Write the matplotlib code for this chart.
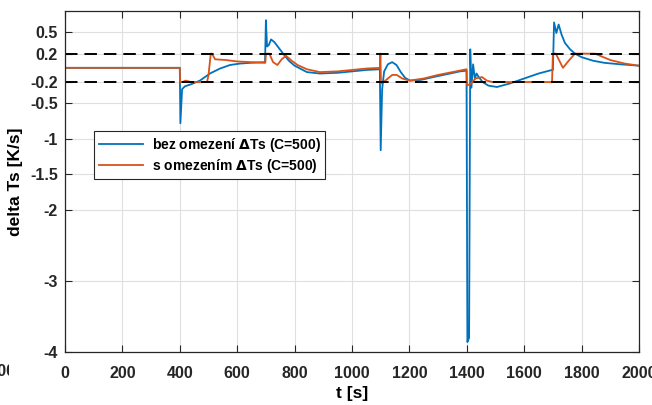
import matplotlib
matplotlib.use('Agg')
import matplotlib.pyplot as plt
from matplotlib.transforms import Bbox

plt.rcParams['font.family'] = ['Liberation Sans', 'DejaVu Sans']
plt.rcParams['font.weight'] = 'bold'
plt.rcParams['lines.scale_dashes'] = False

# bez omezeni dTs (C=500)
t_blue = [0, 400, 402, 408, 418, 440, 470, 505, 540, 575, 610, 645, 697,
          700, 704, 710, 718, 730, 745, 760, 780, 800, 843, 888, 950, 1000,
          1050, 1097, 1100, 1105, 1112, 1125, 1140, 1155, 1170, 1185, 1202,
          1240, 1283, 1330, 1376, 1399, 1402, 1408, 1412, 1416, 1422, 1428,
          1434, 1440, 1455, 1475, 1505, 1550, 1600, 1650, 1697, 1700, 1704,
          1712, 1720, 1730, 1742, 1760, 1777, 1800, 1840, 1880, 1934, 2000]
dts_blue = [0, 0, -0.78, -0.30, -0.26, -0.23, -0.18, -0.08, -0.01, 0.04, 0.06, 0.07, 0.08,
            0.67, 0.30, 0.32, 0.40, 0.36, 0.28, 0.20, 0.10, 0.03, -0.06, -0.08, -0.07, -0.05,
            -0.03, -0.02, -1.16, -0.30, -0.05, 0.05, 0.08, 0.04, -0.06, -0.14, -0.18,
            -0.17, -0.13, -0.09, -0.05, -0.04, -3.86, -3.80, 0.26, -0.28, 0.05, -0.15,
            -0.08, -0.12, -0.20, -0.25, -0.27, -0.22, -0.15, -0.08, -0.03, -0.03, 0.64,
            0.49, 0.61, 0.47, 0.35, 0.26, 0.20, 0.15, 0.10, 0.07, 0.05, 0.03]

# s omezenim dTs (C=500)
t_orange = [0, 400, 401, 410, 420, 440, 470, 495, 500, 508, 512, 523, 560, 600,
            650, 698, 700, 712, 725, 740, 755, 770, 790, 810, 843, 888, 950,
            1000, 1050, 1097, 1099, 1101, 1110, 1125, 1140, 1156, 1175, 1200,
            1250, 1300, 1350, 1399, 1401, 1415, 1430, 1453, 1470, 1490, 1697,
            1700, 1710, 1720, 1735, 1755, 1777, 1847, 1870, 1900, 1950, 2000]
dts_orange = [0, 0, -0.20, -0.20, -0.18, -0.20, -0.20, -0.20, -0.10, 0.20, 0.20, 0.12, 0.11, 0.09,
              0.08, 0.07, 0.20, 0.20, 0.08, 0.04, 0.12, 0.17, 0.10, 0.04, -0.02, -0.06, -0.05,
              -0.03, -0.01, 0.0, 0.20, -0.22, -0.20, -0.15, -0.10, -0.10, -0.15, -0.18,
              -0.15, -0.10, -0.06, -0.02, -0.25, -0.22, -0.15, -0.13, -0.18, -0.20, -0.20,
              0.20, 0.20, 0.12, 0.0, 0.10, 0.20, 0.20, 0.16, 0.11, 0.06, 0.03]

limit = 0.2
x_ticks = [0, 200, 400, 600, 800, 1000, 1200, 1400, 1600, 1800, 2000]
y_ticks = [-4, -3, -2, -1.5, -1, -0.5, -0.2, 0.2, 0.5]
y_labels = ['-4', '-3', '-2', '-1.5', '-1', '-0.5', '-0.2', '0.2', '0.5']

fig = plt.figure(figsize=(6.52, 4.05), dpi=100)
ax = fig.add_axes([65 / 652, 1 - 352 / 405, 574 / 652, 341 / 405])

ax.plot(t_blue, dts_blue, color='#0072BD', lw=1.3, label='bez omezení $\\Delta$Ts (C=500)')
ax.plot(t_orange, dts_orange, color='#D95319', lw=1.3, label='s omezením $\\Delta$Ts (C=500)')
ax.axhline(limit, color='black', lw=1.4, dashes=(9, 5))
ax.axhline(-limit, color='black', lw=1.4, dashes=(9, 5))

ax.set_xlim(0, 2000)
ax.set_ylim(-4, 0.8)
ax.set_xticks(x_ticks)
ax.set_yticks(y_ticks)
ax.set_yticklabels(y_labels)
ax.grid(True, color='#dfdfdf', lw=0.8)
ax.set_axisbelow(True)
ax.tick_params(direction='in', length=5, width=0.8, top=True, right=True,
               labelsize=11.5, colors='#262626')
ax.tick_params(axis='x', pad=10)
ax.tick_params(axis='y', pad=5)
for s in ax.spines.values():
    s.set_color('#262626')
    s.set_linewidth(0.9)

ax.set_xlabel('t [s]', fontsize=12.5, fontweight='bold', labelpad=4)
ax.set_ylabel('delta Ts [K/s]', fontsize=12.5, fontweight='bold', labelpad=5)

leg = ax.legend(loc='upper left', bbox_to_anchor=(29 / 574, (352 - 131) / 341),
                fontsize=10, frameon=True, fancybox=False, framealpha=1,
                edgecolor='#262626', handlelength=3.2, borderpad=0.35,
                labelspacing=0.2, handletextpad=0.6, borderaxespad=0)
leg.get_frame().set_linewidth(0.8)
for txt in leg.get_texts():
    txt.set_fontweight('bold')

# clipped stray tick label at the left edge
stray = fig.text(15 / 652, 1 - 372 / 405, '-200', ha='right', va='center',
                 fontsize=11.5, fontweight='bold', color='#262626')
stray.set_clip_box(Bbox([[0, 0], [9, 405]]))
stray.set_clip_on(True)

fig.savefig('out.png', dpi=100)
